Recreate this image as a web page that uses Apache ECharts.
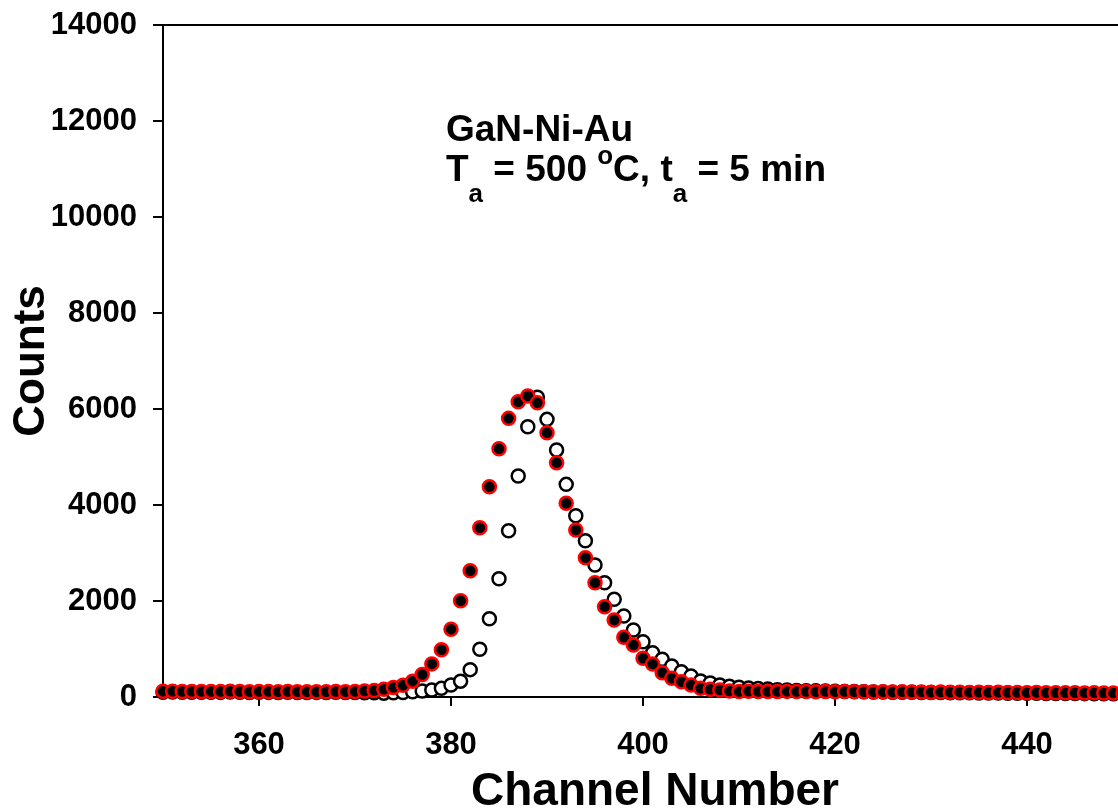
<!DOCTYPE html>
<html>
<head>
<meta charset="utf-8">
<script src="https://cdn.jsdelivr.net/npm/echarts@6/dist/echarts.min.js"></script>
<style>
html,body{margin:0;padding:0;background:#fff;}
#chart{width:1118px;height:808px;}
</style>
</head>
<body>
<div id="chart"></div>
<script>
// Channel numbers (x)
const channels = [
350,351,352,353,354,355,356,357,358,359,
360,361,362,363,364,365,366,367,368,369,
370,371,372,373,374,375,376,377,378,379,
380,381,382,383,384,385,386,387,388,389,
390,391,392,393,394,395,396,397,398,399,
400,401,402,403,404,405,406,407,408,409,
410,411,412,413,414,415,416,417,418,419,
420,421,422,423,424,425,426,427,428,429,
430,431,432,433,434,435,436,437,438,439,
440,441,442,443,444,445,446,447,448,449,
450];

// Open circles (white fill, black edge)
const openCounts = [
100,104,98,101,97,100,96,102,98,95,
99,96,94,97,95,93,96,92,98,94,
92,90,86,80,88,92,110,125,146,180,
250,330,570,993,1632,2465,3465,4604,5631,6243,
5784,5145,4430,3777,3256,2750,2381,2035,1687,1396,
1152,923,785,646,527,437,333,290,250,222,
205,190,178,165,152,145,138,132,128,124,
118,115,112,110,106,104,101,99,97,95,
93,92,90,88,86,85,84,82,80,79,
78,76,75,74,72,71,70,69,68,67,
66];

// Filled circles (black fill, red edge)
const filledCounts = [
118,120,116,117,114,116,112,118,114,111,
115,112,109,113,110,108,111,108,114,110,
116,124,136,160,200,245,330,470,690,985,
1410,2006,2631,3527,4381,5172,5805,6151,6270,6130,
5506,4881,4035,3479,2902,2381,1881,1604,1243,1083,
806,687,506,389,319,250,181,160,146,125,
112,118,114,116,113,117,112,115,111,114,
110,112,108,111,106,109,104,107,102,105,
100,103,98,101,96,99,94,97,92,95,
90,93,88,90,86,88,84,86,82,84,
80];

const xTicks = [360, 380, 400, 420, 440];
const yTicks = [0, 2000, 4000, 6000, 8000, 10000, 12000, 14000];

const F = '"Liberation Sans", Arial, Helvetica, sans-serif';

function pairs(xs, ys) { return xs.map((x, i) => [x, ys[i]]); }

const chart = echarts.init(document.getElementById('chart'), null, {renderer: 'canvas'});
chart.setOption({
  animation: false,
  backgroundColor: '#fff',
  grid: {
    left: 163, top: 25, width: 960, height: 672,
    containLabel: false, outerBoundsMode: 'none',
    show: true, borderColor: '#000', borderWidth: 2, backgroundColor: 'transparent'
  },
  xAxis: {
    type: 'value', min: 350, max: 450,
    name: 'Channel Number', nameLocation: 'middle', nameGap: 72, nameMoveOverlap: false,
    nameTextStyle: {fontFamily: F, fontWeight: 'bold', fontSize: 46, color: '#000', padding: [0, 0, 0, 24]},
    axisLine: {show: true, onZero: false, lineStyle: {color: '#000', width: 2}},
    axisTick: {show: true, inside: false, length: 9, lineStyle: {color: '#000', width: 2}, customValues: xTicks},
    axisLabel: {fontFamily: F, fontWeight: 'bold', fontSize: 31, color: '#000', margin: 33, customValues: xTicks,
      formatter: v => String(v)},
    splitLine: {show: false}
  },
  yAxis: {
    type: 'value', min: 0, max: 14000, interval: 2000,
    name: 'Counts', nameLocation: 'middle', nameGap: 109, nameRotate: 90, nameMoveOverlap: false,
    nameTextStyle: {fontFamily: F, fontWeight: 'bold', fontSize: 44, color: '#000'},
    axisLine: {show: true, lineStyle: {color: '#000', width: 2}},
    axisTick: {show: true, inside: false, length: 10, lineStyle: {color: '#000', width: 2}},
    axisLabel: {fontFamily: F, fontWeight: 'bold', fontSize: 31, color: '#000', margin: 26,
      formatter: v => String(v)},
    splitLine: {show: false}
  },
  series: [
    {
      type: 'scatter', name: 'open', data: pairs(channels, openCounts),
      symbol: 'circle', symbolSize: 13, clip: false,
      itemStyle: {color: '#fff', borderColor: '#000', borderWidth: 2.5, opacity: 1}
    },
    {
      type: 'scatter', name: 'filled', data: pairs(channels, filledCounts),
      symbol: 'circle', symbolSize: 13, clip: false,
      itemStyle: {color: '#000', borderColor: '#ff0000', borderWidth: 2.5, opacity: 1}
    }
  ],
  graphic: [
    {
      type: 'text', left: 446, top: 112, z: 100,
      style: {text: 'GaN-Ni-Au', font: 'bold 37px ' + F, fill: '#000'}
    },
    {
      type: 'text', left: 446, top: 144, z: 100,
      style: {
        text: '{m|T}{sub|a}{m| = 500 }{sup|o}{m|C, t}{sub|a}{m| = 5 min}',
        fill: '#000',
        rich: {
          m: {fontFamily: F, fontWeight: 'bold', fontSize: 37, lineHeight: 40, padding: [8, 0, 0, 0], verticalAlign: 'top', fill: '#000'},
          sub: {fontFamily: F, fontWeight: 'bold', fontSize: 26, lineHeight: 26, padding: [38, 0, 0, 0], verticalAlign: 'top', fill: '#000'},
          sup: {fontFamily: F, fontWeight: 'bold', fontSize: 26, lineHeight: 26, padding: [0, 0, 0, 0], verticalAlign: 'top', fill: '#000'}
        }
      }
    }
  ]
});
</script>
</body>
</html>
